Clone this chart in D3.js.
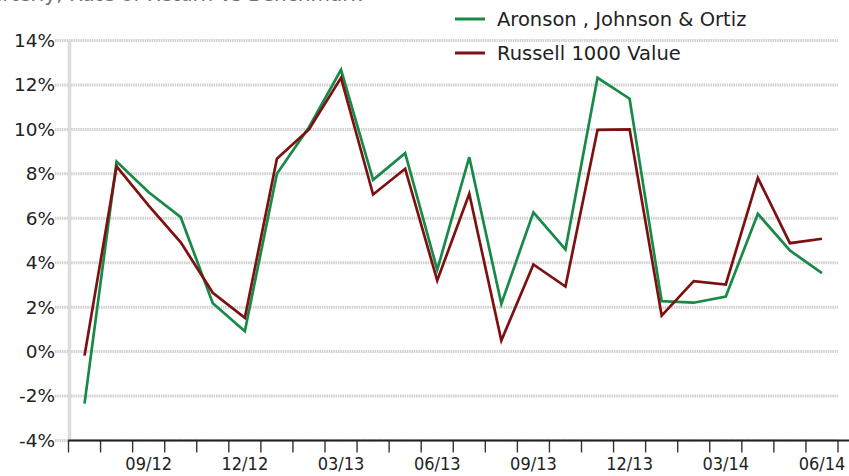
<!DOCTYPE html>
<html>
<head>
<meta charset="utf-8">
<script src="https://cdn.jsdelivr.net/npm/d3@7"></script>
<style>
  body { margin: 0; background: #fff; }
  svg { display: block; }
</style>
</head>
<body>
<div id="chart"></div>
<script>
// monthly rate of return, 07/12 .. 06/14
const months = ['07/12', '08/12', '09/12', '10/12', '11/12', '12/12',
    '01/13', '02/13', '03/13', '04/13', '05/13', '06/13',
    '07/13', '08/13', '09/13', '10/13', '11/13', '12/13',
    '01/14', '02/14', '03/14', '04/14', '05/14', '06/14'];

const fundValues = [-2.34, 8.55, 7.17, 6.05, 2.18, 0.92, 8.0, 10.1, 12.68, 7.73, 8.93, 3.68,
    8.75, 2.15, 6.27, 4.6, 12.32, 11.38, 2.27, 2.2, 2.48, 6.2, 4.55, 3.53];

const benchValues = [-0.18, 8.33, 6.57, 4.92, 2.65, 1.52, 8.68, 10.0, 12.32, 7.07, 8.23, 3.2,
    7.1, 0.5, 3.92, 2.93, 9.98, 10.0, 1.62, 3.17, 3.02, 7.82, 4.88, 5.08];

const yTicks = [-4, -2, 0, 2, 4, 6, 8, 10, 12, 14];
const xLabels = ['09/12', '12/12', '03/13', '06/13', '09/13', '12/13', '03/14', '06/14'];

const seriesNames = ['Aronson , Johnson & Ortiz', 'Russell 1000 Value'];

const WIDTH = 849;
const HEIGHT = 476;
const GREEN = '#188a48';
const RED = '#7d1010';

const svg = d3.select('#chart')
    .append('svg')
        .attr('width', WIDTH)
        .attr('height', HEIGHT);

const x = d3.scaleBand()
    .domain(months)
    .range([68.5, 838])
    .padding(0);

const y = d3.scaleLinear()
    .domain([-4, 14])
    .range([440.5, 40.5]);

// title, mostly cut off at the top edge
svg.append('text')
    .attr('x', 362)
    .attr('y', 1)
    .attr('text-anchor', 'end')
    .attr('font-family', 'DejaVu Sans, Verdana, sans-serif')
    .attr('font-size', 20)
    .attr('fill', '#6f6f6f')
    .text('Quarterly, Rate of Return vs Benchmark');

// grid lines
svg.append('g')
    .selectAll('line')
    .data(yTicks)
    .enter()
    .append('line')
        .attr('x1', 55)
        .attr('x2', 838)
        .attr('y1', d => y(d))
        .attr('y2', d => y(d))
        .attr('stroke', '#d0d0d0')
        .attr('stroke-width', 3)
        .attr('stroke-dasharray', '1.5,0.8');

// left axis line
svg.append('line')
    .attr('x1', 69.5).attr('x2', 69.5)
    .attr('y1', y(14)).attr('y2', y(-4))
    .attr('stroke', '#dcdcdc')
    .attr('stroke-width', 3.5);

// y labels
const yAxis = d3.axisLeft(y)
    .tickValues(yTicks)
    .tickSize(0)
    .tickPadding(0)
    .tickFormat(d => d + '%');

svg.append('g')
    .attr('transform', 'translate(55,0)')
    .call(yAxis)
    .call(g => g.select('.domain').remove())
    .call(g => g.selectAll('text')
        .attr('font-family', 'DejaVu Sans, Verdana, sans-serif')
        .attr('font-size', 18.5)
        .attr('fill', '#222'));

// x axis: ticks on month boundaries, labels every quarter
const xAxis = d3.axisBottom(x)
    .tickValues(xLabels)
    .tickSize(0)
    .tickPadding(17);

svg.append('g')
    .attr('transform', `translate(0,${y(-4)})`)
    .call(xAxis)
    .call(g => g.select('.domain').remove())
    .call(g => g.selectAll('text')
        .attr('font-family', 'DejaVu Sans Condensed, DejaVu Sans, sans-serif')
        .attr('font-size', 18)
        .attr('fill', '#222'));

svg.append('g')
    .selectAll('line')
    .data(months.concat(['end']))
    .enter()
    .append('line')
        .attr('x1', (d, i) => i < months.length ? x(d) : x.range()[1])
        .attr('x2', (d, i) => i < months.length ? x(d) : x.range()[1])
        .attr('y1', y(-4))
        .attr('y2', y(-4) + 12)
        .attr('stroke', '#333')
        .attr('stroke-width', 1.4);

svg.append('line')
    .attr('x1', 68).attr('x2', WIDTH)
    .attr('y1', y(-4)).attr('y2', y(-4))
    .attr('stroke', '#222')
    .attr('stroke-width', 1.8);

// lines
const line = d3.line()
    .x((d, i) => x(months[i]) + x.bandwidth() / 2)
    .y(d => y(d));

svg.append('path')
    .datum(fundValues)
    .attr('fill', 'none')
    .attr('stroke', GREEN)
    .attr('stroke-width', 2.7)
    .attr('d', line);

svg.append('path')
    .datum(benchValues)
    .attr('fill', 'none')
    .attr('stroke', RED)
    .attr('stroke-width', 2.7)
    .attr('d', line);

// legend
const legend = svg.append('g')
    .selectAll('g')
    .data(seriesNames)
    .enter()
    .append('g')
        .attr('transform', (d, i) => `translate(455,${19 + i * 34})`);

legend.append('line')
    .attr('x1', 0).attr('x2', 30)
    .attr('stroke', (d, i) => i === 0 ? GREEN : RED)
    .attr('stroke-width', 3);

legend.append('text')
    .attr('x', 42)
    .attr('y', 7)
    .attr('font-family', 'DejaVu Sans, Verdana, sans-serif')
    .attr('font-size', 19.5)
    .attr('fill', '#222')
    .text(d => d);
</script>
</body>
</html>
